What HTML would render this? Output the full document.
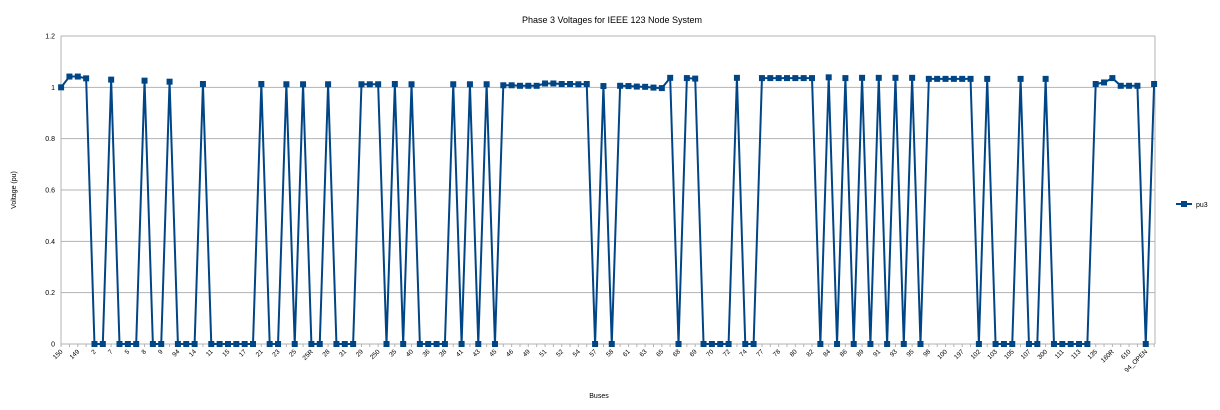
<!DOCTYPE html>
<html><head><meta charset="utf-8"><style>
html,body{margin:0;padding:0;background:#fff;}
svg{display:block;font-family:"Liberation Sans",sans-serif;}
</style></head><body>
<svg id="chart" width="1220" height="410" viewBox="0 0 1220 410">
<text x="612" y="23" font-size="9" text-anchor="middle" fill="#000">Phase 3 Voltages for IEEE 123 Node System</text>
<text x="599" y="398" font-size="7" text-anchor="middle" fill="#000">Buses</text>
<text transform="translate(16,190) rotate(-90)" font-size="7" text-anchor="middle" fill="#000">Voltage (pu)</text>
<g id="grid"></g>
<g id="yticks"></g>
<g id="xticks"></g>
<g id="series"></g>
<g>
<line x1="1176" y1="204" x2="1192" y2="204" stroke="#004586" stroke-width="2"/>
<rect x="1181" y="201" width="6" height="6" fill="#004586"/>
<text x="1196" y="207" font-size="7" fill="#000">pu3</text>
</g>
</svg>
<script>
const yTicks = [0, 0.2, 0.4, 0.6, 0.8, 1, 1.2];
const yTickLabels = ["0", "0.2", "0.4", "0.6", "0.8", "1", "1.2"];
const pu3 = [1.0,1.042,1.042,1.035,0,0,1.03,0,0,0,1.026,0,0,1.022,0,0,0,1.013,0,0,0,0,0,0,1.013,0,0,1.012,0,1.012,0,0,1.012,0,0,0,1.012,1.012,1.012,0,1.013,0,1.012,0,0,0,0,1.012,0,1.012,0,1.012,0,1.008,1.008,1.006,1.006,1.006,1.015,1.015,1.013,1.013,1.012,1.013,0,1.005,0,1.006,1.005,1.003,1.002,0.999,0.997,1.037,0,1.036,1.034,0,0,0,0,1.037,0,0,1.036,1.036,1.036,1.036,1.036,1.036,1.036,0,1.039,0,1.036,0,1.037,0,1.037,0,1.037,0,1.037,0,1.033,1.033,1.033,1.033,1.033,1.033,0,1.033,0,0,0,1.033,0,0,1.033,0,0,0,0,0,1.013,1.019,1.036,1.006,1.006,1.006,0,1.013];
const xLabels = ["150","149","2","7","5","8","9","94","14","11","15","17","21","23","25","25R","28","31","29","250","35","40","36","38","41","43","45","46","49","51","52","54","57","58","61","63","65","68","69","70","72","74","77","78","80","82","84","86","89","91","93","95","98","100","197","102","103","105","107","300","111","113","135","160R","610","94_OPEN"];
const NS="http://www.w3.org/2000/svg";
const L=61,R=1155,T=36,B=344,yMax=1.2;
const n=pu3.length;
function xs(i){return L+0.1+(R-L-1)*i/(n-1);}
function ys(v){return B-(B-T)*v/yMax;}
function mk(tag,attrs,parent){const e=document.createElementNS(NS,tag);for(const k in attrs)e.setAttribute(k,attrs[k]);parent.appendChild(e);return e;}
const grid=document.getElementById('grid'),yt=document.getElementById('yticks'),xt=document.getElementById('xticks'),ser=document.getElementById('series');
yTicks.forEach((v,i)=>{
  const g=mk('line',{x1:L,x2:R,y1:ys(v),y2:ys(v),stroke:'#b3b3b3','stroke-width':1},grid);
  
  
  const t=mk('text',{x:L-6,y:ys(v)+2.5,'font-size':7,'text-anchor':'end',fill:'#000'},yt);
  t.textContent=yTickLabels[i];
  
  
});
mk('line',{x1:L,x2:L,y1:T,y2:B,stroke:'#b3b3b3','stroke-width':1},grid);
mk('line',{x1:R,x2:R,y1:T,y2:B,stroke:'#b3b3b3','stroke-width':1},grid);
for(let i=0;i<n;i++){
  mk('line',{x1:xs(i),x2:xs(i),y1:B,y2:B+3,stroke:'#b3b3b3','stroke-width':1},grid);
}
xLabels.forEach((lab,k)=>{
  const i=k*2;const x=xs(i);
  const t=mk('text',{x:0,y:0,'font-size':6.5,'text-anchor':'end',fill:'#000',transform:`translate(${x+2},${B+8}) rotate(-45)`},xt);
  t.textContent=lab;
  
  
});
let d='';
pu3.forEach((v,i)=>{d+=(i?'L':'M')+xs(i).toFixed(2)+','+ys(v).toFixed(2);});
const p=mk('path',{d:d,fill:'none',stroke:'#004586','stroke-width':2,'stroke-linejoin':'round'},ser);


pu3.forEach((v,i)=>{
  const r=mk('rect',{x:xs(i)-3,y:ys(v)-3,width:6,height:6,fill:'#004586'},ser);
  
  
});
</script>
</body></html>
